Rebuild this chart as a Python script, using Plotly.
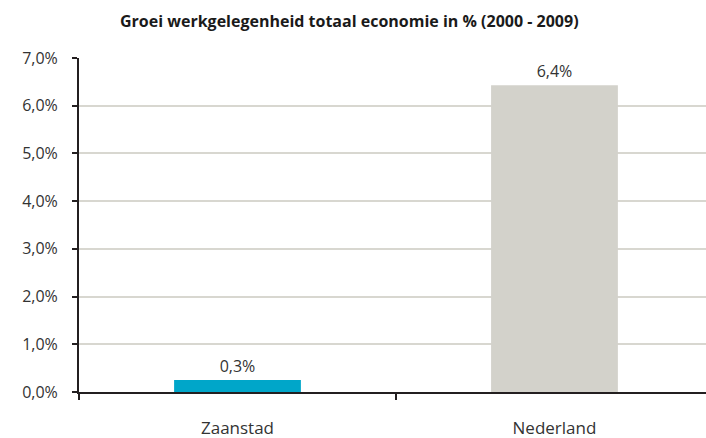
"""
Groei werkgelegenheid: Zaanstad vs Nederland, as a plotly bar chart.
"""

import plotly.graph_objs as go

regions = ["Zaanstad", "Nederland"]
growth = [0.25, 6.43]
growth_labels = ["0,3%", "6,4%"]
bar_colors = ["#00A6C9", "#D3D2CB"]
y_ticks = [0, 1, 2, 3, 4, 5, 6, 7]
y_tick_labels = ["0,0%", "1,0%", "2,0%", "3,0%", "4,0%", "5,0%", "6,0%", "7,0%"]

W, H = 706, 438

fig = go.Figure(go.Bar(
    x=regions,
    y=growth,
    text=growth_labels,
    textposition="outside",
    textfont=dict(size=16, color="#333333"),
    cliponaxis=False,
    marker=dict(color=bar_colors, line=dict(width=0)),
    width=0.4,
))

fig.update_layout(
    width=W, height=H,
    margin=dict(l=79, r=0, t=58, b=46),
    paper_bgcolor="white",
    plot_bgcolor="white",
    font=dict(family="Open Sans, Lato, sans-serif", size=16, color="#333333"),
    showlegend=False,
    title=dict(
        text="<b>Groei werkgelegenheid totaal economie in % (2000 - 2009)</b>",
        x=120 / W, xanchor="left",
        y=1 - 21 / H, yanchor="middle",
        xref="container", yref="container",
        font=dict(size=16, color="#1A1A1A"),
    ),
)

fig.update_yaxes(
    range=[0, 7],
    tickvals=y_ticks,
    ticktext=y_tick_labels,
    automargin=False,
    showgrid=True,
    gridcolor="#D8D7D0",
    gridwidth=2,
    showline=True,
    linecolor="#231F20",
    linewidth=2,
    ticks="outside",
    ticklen=5,
    tickcolor="#231F20",
    tickwidth=2,
    ticklabelstandoff=11,
    zeroline=False,
)

fig.update_xaxes(
    range=[-0.5, 1.478],
    tickson="boundaries",
    automargin=False,
    ticks="outside",
    ticklen=6,
    tickcolor="#231F20",
    tickwidth=2,
    showline=True,
    linecolor="#231F20",
    linewidth=2,
    tickfont=dict(size=17),
    ticklabelstandoff=20,
    showgrid=False,
)

# drop the default page margin so the figure fills the window exactly
fig.write_html(
    "out.html",
    config={"displayModeBar": False},
    post_script="document.body.style.margin = '0';",
)
